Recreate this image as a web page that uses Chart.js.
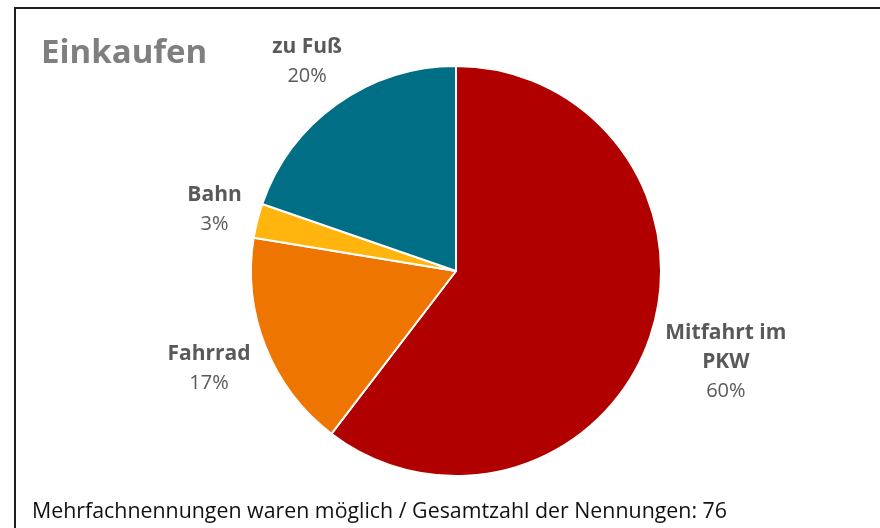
<!DOCTYPE html>
<html>
<head>
<meta charset="utf-8">
<script src="https://cdn.jsdelivr.net/npm/chart.js@4"></script>
<style>
  html, body { margin: 0; padding: 0; background: #fff; }
  #wrap { position: relative; width: 880px; height: 528px; overflow: hidden; }
  #frame { position: absolute; left: 14px; top: 7px; width: 900px; height: 600px;
           border: 2px solid #1e1e1e; pointer-events: none; }
  canvas { position: absolute; left: 0; top: 0; }
</style>
</head>
<body>
<div id="wrap">
  <canvas id="chart" width="880" height="528"></canvas>
  <div id="frame"></div>
</div>
<script>
// shares in percent
const categories = [["Mitfahrt im", "PKW"], ["Fahrrad"], ["Bahn"], ["zu Fuß"]];
const shares = [60.4, 17.2, 2.7, 19.7];
const colors = ["#B00000", "#EE7500", "#FFB50D", "#006F85"];
const titleText = "Einkaufen";
const noteText = "Mehrfachnennungen waren möglich / Gesamtzahl der Nennungen: 76";

const FONT = "'Open Sans', 'Noto Sans', sans-serif";
const total = shares.reduce((a, b) => a + b, 0);

// title, footnote and outside labels
const textPlugin = {
  id: "texts",
  afterDatasetsDraw(chart) {
    const ctx = chart.ctx;
    ctx.save();

    ctx.fillStyle = "#7F7F7F";
    ctx.font = "bold 33px " + FONT;
    ctx.textAlign = "left";
    ctx.textBaseline = "alphabetic";
    ctx.fillText(titleText, 41, 63, 169);

    ctx.fillStyle = "#111";
    ctx.font = "22px " + FONT;
    ctx.fillText(noteText, 32, 518, 695);

    const meta = chart.getDatasetMeta(0);
    const lineH = 29;
    const gap = 16;
    meta.data.forEach((arc, i) => {
      const p = arc.getProps(["x", "y", "startAngle", "endAngle", "outerRadius"], true);
      const mid = (p.startAngle + p.endAngle) / 2;
      const dx = Math.cos(mid), dy = Math.sin(mid);
      const lines = categories[i].slice();
      ctx.font = "bold 21px " + FONT;
      let w = 0;
      lines.forEach(l => { w = Math.max(w, ctx.measureText(l).width); });
      const pct = Math.round(shares[i] / total * 100) + "%";
      ctx.font = "20px " + FONT;
      w = Math.max(w, ctx.measureText(pct).width);
      const h = (lines.length + 1) * lineH;
      const t = Math.min(w / 2 / Math.max(Math.abs(dx), 1e-6), h / 2 / Math.max(Math.abs(dy), 1e-6));
      const d = p.outerRadius + gap + t;
      const cx = p.x + dx * d;
      const cy = p.y + dy * d;
      ctx.textAlign = "center";
      ctx.textBaseline = "middle";
      ctx.fillStyle = "#595959";
      let y = cy - h / 2 + lineH / 2;
      ctx.font = "bold 21px " + FONT;
      lines.forEach(l => { ctx.fillText(l, cx, y); y += lineH; });
      ctx.font = "20px " + FONT;
      ctx.fillText(pct, cx, y);
    });
    ctx.restore();
  }
};

new Chart(document.getElementById("chart"), {
  type: "pie",
  data: {
    labels: categories.map(c => c.join(" ")),
    datasets: [{
      data: shares,
      backgroundColor: colors,
      borderColor: "#ffffff",
      borderWidth: 2
    }]
  },
  options: {
    responsive: false,
    devicePixelRatio: 1,
    animation: false,
    layout: { padding: { left: 250, right: 218, top: 65, bottom: 51 } },
    plugins: {
      legend: { display: false },
      tooltip: { enabled: false },
      title: { display: false }
    }
  },
  plugins: [textPlugin]
});
</script>
</body>
</html>
